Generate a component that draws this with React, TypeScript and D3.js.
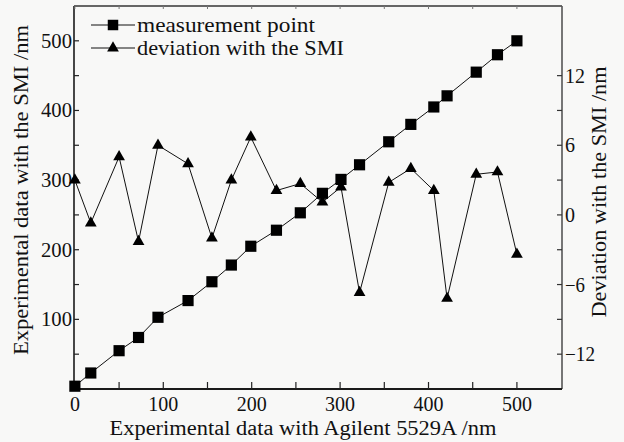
import React, { useEffect, useRef } from "react"
import * as d3 from "d3"

const W = 624
const H = 442
const FONT = "Liberation Serif, DejaVu Serif, Times New Roman, Times, Noto Serif, serif"

// x positions (Agilent 5529A, nm)
const agilent = [0, 18, 50, 72, 94, 128, 155, 177, 199, 228, 255, 280, 301, 322, 355, 380, 406, 421, 454, 478, 500]
// measurement point (SMI, nm) - left axis
const smi = [4, 23, 55, 74, 103, 127, 154, 178, 205, 228, 253, 281, 301, 322, 355, 380, 405, 421, 455, 480, 500]
// deviation with the SMI (nm) - right axis
const deviation = [3, -0.7, 5, -2.3, 6, 4.4, -2, 3, 6.7, 2.1, 2.7, 1.1, 2.4, -6.7, 2.8, 4, 2.1, -7.2, 3.5, 3.7, -3.4]

const xTicks = [0, 100, 200, 300, 400, 500]
const xMinor = [50, 150, 250, 350, 450]
const yLeftTicks = [100, 200, 300, 400, 500]
const yLeftMinor = [50, 150, 250, 350, 450]
const yRightTicks = [-12, -6, 0, 6, 12]
const yRightMinor = [-9, -3, 3, 9]

const legendItems = ["measurement point", "deviation with the SMI"]

export default function App() {
  const ref = useRef<SVGSVGElement>(null)

  useEffect(() => {
    const svg = d3.select(ref.current)
    svg.selectAll("*").remove()

    const left = 74
    const right = 562
    const top = 6
    const bottom = 389

    const x = d3.scaleLinear().domain([-1, 551]).range([left, right])
    const yL = d3.scaleLinear().domain([0, 550]).range([bottom, top])
    const yR = d3.scaleLinear().domain([-15, 18]).range([bottom, top])

    svg.append("rect").attr("width", W).attr("height", H).attr("fill", "#f8f8f7")

    // frame
    svg.append("line").attr("x1", left).attr("x2", right).attr("y1", top).attr("y2", top)
      .attr("stroke", "#666").attr("stroke-width", 2)
    svg.append("line").attr("x1", right).attr("x2", right).attr("y1", top).attr("y2", bottom)
      .attr("stroke", "#555").attr("stroke-width", 1.6)
    svg.append("line").attr("x1", left).attr("x2", left).attr("y1", top).attr("y2", bottom)
      .attr("stroke", "#1a1a1a").attr("stroke-width", 1.6)
    svg.append("line").attr("x1", left).attr("x2", right).attr("y1", bottom).attr("y2", bottom)
      .attr("stroke", "#1a1a1a").attr("stroke-width", 1.8)

    const g = svg.append("g")

    // bottom ticks (inward) + small top ticks
    xTicks.concat(xMinor).forEach((v) => {
      g.append("line").attr("x1", x(v)).attr("x2", x(v)).attr("y1", bottom).attr("y2", bottom - 7)
        .attr("stroke", "#222").attr("stroke-width", 1.2)
      g.append("line").attr("x1", x(v)).attr("x2", x(v)).attr("y1", top).attr("y2", top + 3)
        .attr("stroke", "#777").attr("stroke-width", 1)
    })
    xTicks.forEach((v) => {
      g.append("text").attr("x", x(v)).attr("y", 411).attr("text-anchor", "middle")
        .style("font-family", FONT).attr("font-size", 20).attr("fill", "#111")
        .attr("textLength", String(v).length * 10).attr("lengthAdjust", "spacingAndGlyphs").text(v)
    })

    // left ticks
    yLeftTicks.concat(yLeftMinor).forEach((v) => {
      g.append("line").attr("x1", left).attr("x2", left + 5).attr("y1", yL(v)).attr("y2", yL(v))
        .attr("stroke", "#222").attr("stroke-width", 1.2)
    })
    yLeftTicks.forEach((v) => {
      g.append("text").attr("x", 72).attr("y", yL(v) + 7).attr("text-anchor", "end")
        .style("font-family", FONT).attr("font-size", 20).attr("fill", "#111")
        .attr("textLength", 31).attr("lengthAdjust", "spacingAndGlyphs").text(v)
    })

    // right ticks
    yRightTicks.concat(yRightMinor).forEach((v) => {
      g.append("line").attr("x1", right - 5).attr("x2", right).attr("y1", yR(v)).attr("y2", yR(v))
        .attr("stroke", "#333").attr("stroke-width", 1.2)
    })
    yRightTicks.forEach((v) => {
      const label = v < 0 ? "\u2212" + Math.abs(v) : String(v)
      g.append("text").attr("x", 565).attr("y", yR(v) + 7)
        .style("font-family", FONT).attr("font-size", 20).attr("fill", "#111")
        .attr("textLength", label.length * 10).attr("lengthAdjust", "spacingAndGlyphs")
        .text(label)
    })

    // axis titles
    svg.append("text").attr("x", 303).attr("y", 435).attr("text-anchor", "middle")
      .style("font-family", FONT).attr("font-size", 20).attr("fill", "#111")
      .attr("textLength", 387).attr("lengthAdjust", "spacingAndGlyphs")
      .text("Experimental data with Agilent 5529A /nm")
    svg.append("text").attr("transform", "translate(28,190) rotate(-90)").attr("text-anchor", "middle")
      .style("font-family", FONT).attr("font-size", 20).attr("fill", "#111")
      .attr("textLength", 330).attr("lengthAdjust", "spacingAndGlyphs")
      .text("Experimental data with the SMI /nm")
    svg.append("text").attr("transform", "translate(606,192) rotate(-90)").attr("text-anchor", "middle")
      .style("font-family", FONT).attr("font-size", 20).attr("fill", "#111")
      .attr("textLength", 251).attr("lengthAdjust", "spacingAndGlyphs")
      .text("Deviation with the SMI /nm")

    // deviation series (right axis)
    const devLine = d3.line<number>().x((d, i) => x(agilent[i])).y((d) => yR(d))
    svg.append("path").datum(deviation).attr("d", devLine).attr("fill", "none")
      .attr("stroke", "#111").attr("stroke-width", 1)
    svg.selectAll(".tri").data(deviation).enter().append("path")
      .attr("transform", (d, i) => `translate(${x(agilent[i])},${yR(d)})`)
      .attr("d", d3.symbol().type(d3.symbolTriangle).size(60)())
      .attr("fill", "#000")

    // measurement series (left axis)
    const smiLine = d3.line<number>().x((d, i) => x(agilent[i])).y((d) => yL(d))
    svg.append("path").datum(smi).attr("d", smiLine).attr("fill", "none")
      .attr("stroke", "#111").attr("stroke-width", 1)
    svg.selectAll(".sq").data(smi).enter().append("path")
      .attr("transform", (d, i) => `translate(${x(agilent[i])},${yL(d)})`)
      .attr("d", d3.symbol().type(d3.symbolSquare).size(125)())
      .attr("fill", "#000")

    // legend
    const symbols = [d3.symbolSquare, d3.symbolTriangle]
    const sizes = [110, 60]
    const widths = [178, 207]
    legendItems.forEach((name, i) => {
      const ly = 25 + i * 23
      const lg = svg.append("g")
      lg.append("line").attr("x1", 91).attr("x2", 135).attr("y1", ly).attr("y2", ly)
        .attr("stroke", "#111").attr("stroke-width", 1)
      lg.append("path").attr("transform", `translate(113,${ly})`)
        .attr("d", d3.symbol().type(symbols[i]).size(sizes[i])()).attr("fill", "#000")
      lg.append("text").attr("x", 137).attr("y", ly + 7)
        .style("font-family", FONT).attr("font-size", 21).attr("fill", "#111")
        .attr("textLength", widths[i]).attr("lengthAdjust", "spacingAndGlyphs")
        .text(name)
    })
  }, [])

  return (
    <div style={{ position: "fixed", left: 0, top: 0, width: W, height: H }}>
      <svg ref={ref} width={W} height={H} viewBox={`0 0 ${W} ${H}`} style={{ display: "block" }} />
    </div>
  )
}
